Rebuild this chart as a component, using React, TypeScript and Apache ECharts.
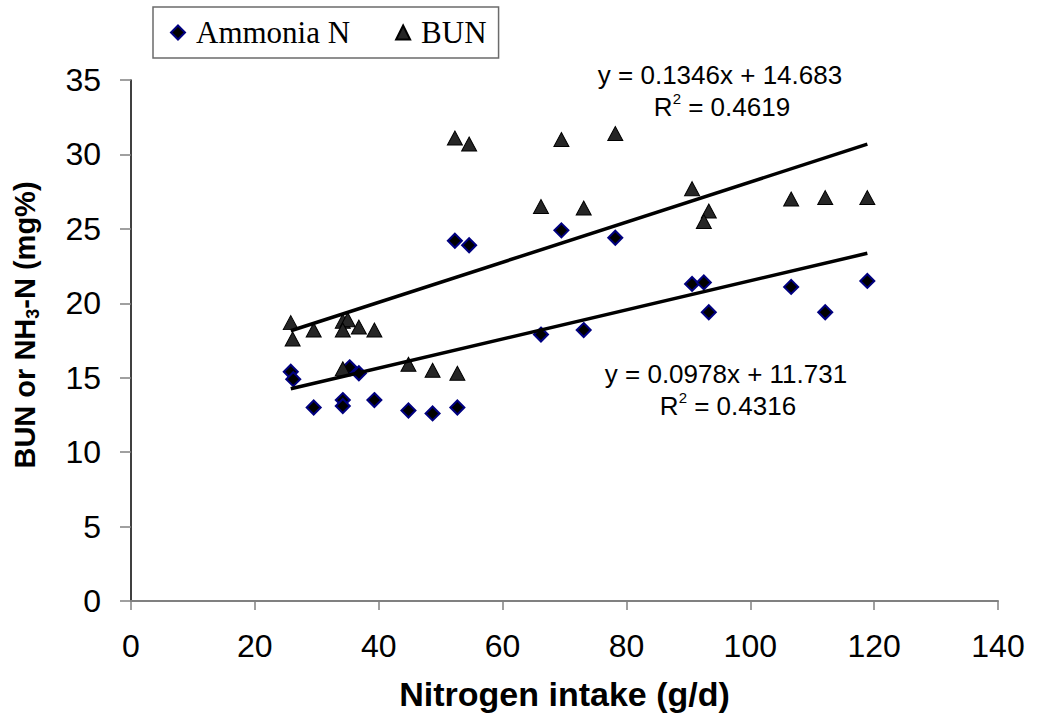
import React, { useEffect, useRef } from 'react';
import * as echarts from 'echarts';

const xTicks = [0, 20, 40, 60, 80, 100, 120, 140];
const yTicks = [0, 5, 10, 15, 20, 25, 30, 35];

const bunX = [25.8, 26.1, 29.5, 34.2, 35.0, 34.2, 36.8, 39.3, 34.2, 44.8, 48.7, 52.7, 52.3, 54.6, 66.2, 69.5, 73.1, 78.2, 90.6, 93.3, 92.5, 106.6, 112.1, 118.9];
const bunY = [18.7, 17.6, 18.2, 18.8, 18.9, 18.2, 18.4, 18.2, 15.6, 15.9, 15.5, 15.3, 31.1, 30.7, 26.5, 31.0, 26.4, 31.4, 27.7, 26.2, 25.5, 27.0, 27.1, 27.1];
const nh3X = [25.8, 26.2, 29.5, 34.2, 34.2, 35.3, 36.8, 39.3, 44.8, 48.7, 52.7, 52.3, 54.6, 66.2, 69.5, 73.1, 78.2, 90.6, 92.5, 93.3, 106.6, 112.1, 118.9];
const nh3Y = [15.4, 14.9, 13.0, 13.5, 13.1, 15.7, 15.3, 13.5, 12.8, 12.6, 13.0, 24.2, 23.9, 17.9, 24.9, 18.2, 24.4, 21.3, 21.4, 19.4, 21.1, 19.4, 21.5];

const bunFit = [0.1346, 14.683];
const nh3Fit = [0.0978, 11.731];
const bunEq = ['y = 0.1346x + 14.683', '0.4619'];
const nh3Eq = ['y = 0.0978x + 11.731', '0.4316'];

const SANS = 'Liberation Sans, Arial, sans-serif';
const SERIF = 'Liberation Serif, Times New Roman, serif';

function pairs(xs: number[], ys: number[]) {
  return xs.map((x, i) => [x, ys[i]]);
}
function fitLine(xs: number[], fit: number[]) {
  const lo = Math.min(...xs);
  const hi = Math.max(...xs);
  return [[lo, fit[0] * lo + fit[1]], [hi, fit[0] * hi + fit[1]]];
}

export default function App() {
  const ref = useRef<HTMLDivElement>(null);
  useEffect(() => {
    if (!ref.current) return;
    const chart = echarts.init(ref.current, null, { renderer: 'svg' });
    const eqText = (x: number, y: number, eq: string[]) => [
      {
        type: 'text',
        style: { x, y, text: eq[0], fontFamily: SANS, fontSize: 26, fill: '#000', align: 'center', verticalAlign: 'middle' },
      },
      {
        type: 'text',
        style: {
          x: x + 2, y: y + 32, text: 'R{sup|2} = ' + eq[1], fontFamily: SANS, fontSize: 26, fill: '#000',
          align: 'center', verticalAlign: 'middle', lineHeight: 32,
          rich: { sup: { fontSize: 15, fontFamily: SANS, fill: '#000', verticalAlign: 'top', lineHeight: 15 } },
        },
      },
    ];
    chart.setOption({
      animation: false,
      backgroundColor: '#fff',
      grid: { left: 131, right: 40, top: 80, bottom: 112, containLabel: false },
      legend: {
        data: ['Ammonia N', 'BUN'],
        left: 153,
        top: 7,
        orient: 'horizontal',
        padding: [10, 12, 10, 17],
        itemWidth: 14,
        itemHeight: 14,
        itemGap: 45,
        borderColor: '#6b6b6b',
        borderWidth: 1.5,
        textStyle: { fontFamily: SERIF, fontSize: 31, color: '#000', padding: [0, 0, 0, 6] },
      },
      xAxis: {
        type: 'value', min: 0, max: 140, interval: 20,
        name: 'Nitrogen intake (g/d)', nameLocation: 'middle', nameGap: 76,
        nameTextStyle: { fontFamily: SANS, fontSize: 34, fontWeight: 'bold', color: '#000' },
        axisLine: { show: true, lineStyle: { color: '#808080', width: 2 } },
        axisTick: { show: true, inside: false, length: 9, lineStyle: { color: '#808080', width: 1.5 } },
        axisLabel: { fontFamily: SANS, fontSize: 32, color: '#000', margin: 29,
          formatter: (v: number) => (xTicks.includes(v) ? String(v) : '') },
        splitLine: { show: false },
      },
      yAxis: {
        type: 'value', min: 0, max: 35, interval: 5,
        axisLine: { show: true, lineStyle: { color: '#000', width: 1.5 } },
        axisTick: { show: true, inside: false, length: 11, lineStyle: { color: '#808080', width: 1.5 } },
        axisLabel: { fontFamily: SANS, fontSize: 32, color: '#000', margin: 30,
          formatter: (v: number) => (yTicks.includes(v) ? String(v) : '') },
        splitLine: { show: false },
      },
      series: [
        {
          name: 'Ammonia N', type: 'scatter', symbol: 'diamond', symbolSize: 14,
          itemStyle: { color: '#000', borderColor: '#000080', borderWidth: 2, opacity: 1 },
          data: pairs(nh3X, nh3Y), z: 3,
        },
        {
          name: 'BUN', type: 'scatter', symbol: 'triangle', symbolSize: [15, 14],
          itemStyle: { color: '#262626', borderColor: '#000', borderWidth: 1, opacity: 1 },
          data: pairs(bunX, bunY), z: 3,
        },
        {
          name: 'BUN trend', type: 'line', symbol: 'none', silent: true,
          lineStyle: { color: '#000', width: 3.5 }, data: fitLine(bunX, bunFit), z: 4,
        },
        {
          name: 'NH3 trend', type: 'line', symbol: 'none', silent: true,
          lineStyle: { color: '#000', width: 3.5 }, data: fitLine(nh3X, nh3Fit), z: 4,
        },
      ],
      graphic: [
        ...eqText(720, 75, bunEq),
        ...eqText(726, 374, nh3Eq),
        {
          type: 'text', x: 25, y: 325, rotation: Math.PI / 2,
          style: {
            x: 0, y: 0, text: 'BUN or NH{sub|3}-N (mg%)', fontFamily: SANS, fontSize: 29, fontWeight: 'bold',
            fill: '#000', align: 'center', verticalAlign: 'middle', lineHeight: 34,
            rich: { sub: { fontFamily: SANS, fontSize: 18, fontWeight: 'bold', fill: '#000', verticalAlign: 'bottom', lineHeight: 18 } },
          },
        },
      ],
    });
    return () => chart.dispose();
  }, []);
  return <div ref={ref} style={{ position: 'absolute', left: 0, top: 0, width: 1038, height: 716 }} />;
}
